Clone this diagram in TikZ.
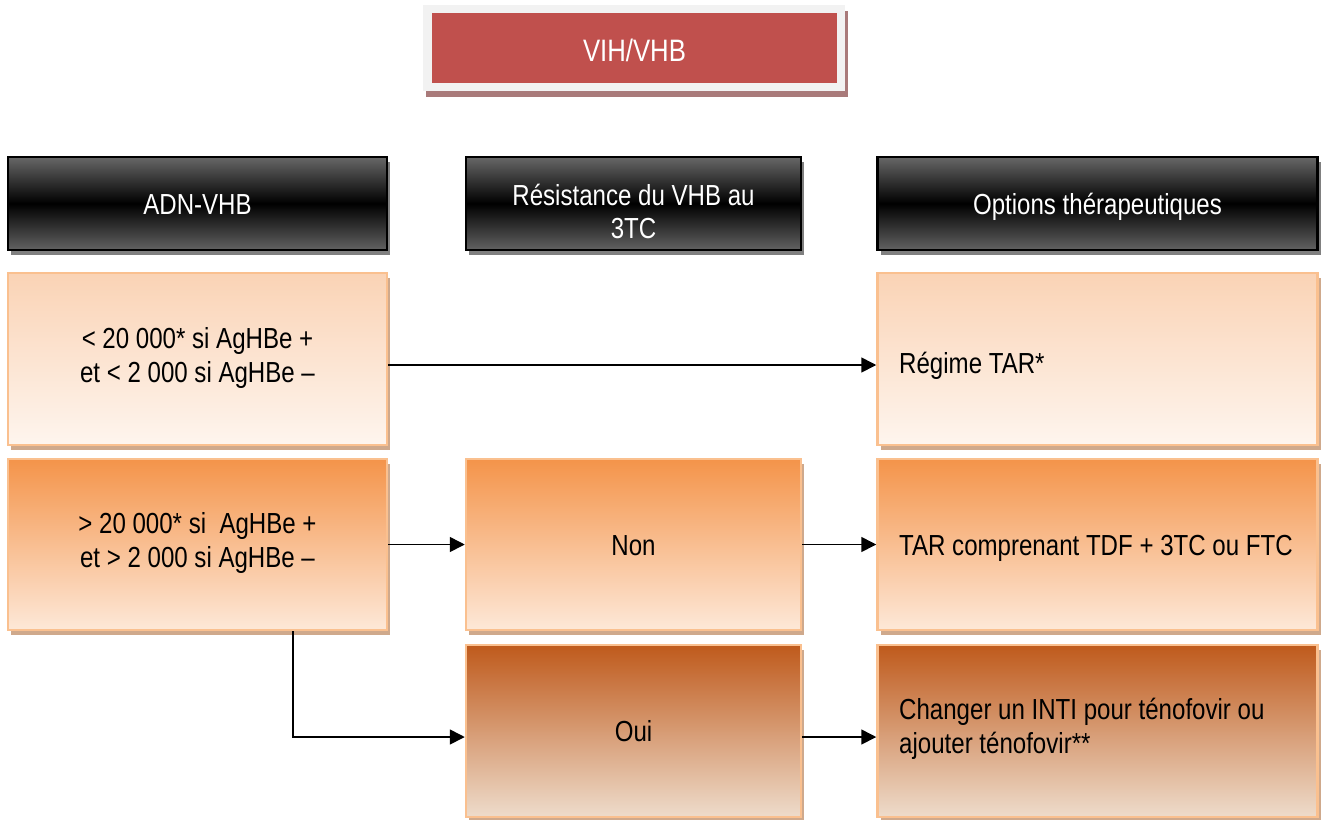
\documentclass[tikz,border=0pt]{standalone}
\usepackage{fontspec}
\setmainfont[FakeStretch=0.83]{Liberation Sans}
\usetikzlibrary{arrows.meta,shadows}

\definecolor{hivred}{HTML}{C0504D}
\definecolor{framegray}{HTML}{F2F2F2}
\definecolor{redshadow}{HTML}{A97A7A}
\definecolor{peachborder}{HTML}{FAC08F}
\definecolor{boxshadow}{HTML}{CFA98C}
\definecolor{headshadow}{HTML}{808080}
\definecolor{headgray}{HTML}{676767}
\definecolor{lowtop}{HTML}{FAD3B5}
\definecolor{lowbot}{HTML}{FEF5EE}
\definecolor{midtop}{HTML}{F4944A}
\definecolor{midbot}{HTML}{FDE8D8}
\definecolor{hightop}{HTML}{BF5A1C}
\definecolor{highbot}{HTML}{EEDCCB}

\begin{document}
\begin{tikzpicture}[x=1pt,y=-1pt,
  % multi-line labels sit on the baseline of their last line
  label/.style={font=\fontsize{29}{33.4}\selectfont, inner sep=0pt, align=center, anchor=base},
  headbox/.style={draw=black, line width=2.5pt, top color=headgray, bottom color=headgray!95!black,
    middle color=black, minimum height=93pt,
    drop shadow={shadow xshift=3pt, shadow yshift=-5pt, fill=headshadow, opacity=1}},
  panel/.style={draw=peachborder, line width=2.5pt, minimum height=172pt,
    drop shadow={shadow xshift=3pt, shadow yshift=-5pt, fill=boxshadow, opacity=1}},
  lowlevel/.style={panel, top color=lowtop, bottom color=lowbot},
  midlevel/.style={panel, top color=midtop, bottom color=midbot},
  highlevel/.style={panel, top color=hightop, bottom color=highbot},
  flow/.style={line width=1.6pt, -{Triangle[length=15pt,width=15pt]}}
]
\useasboundingbox (0,0) rectangle (1321,819);

% title block
\node[fill=framegray, minimum width=422pt, minimum height=86pt, inner sep=0pt,
  drop shadow={shadow xshift=3pt, shadow yshift=-6pt, fill=redshadow, opacity=1}] (frame) at (634,48) {};
\node[fill=hivred, minimum width=405pt, minimum height=70pt, inner sep=0pt] (title) at (634.5,48) {};
\node[label, text=white, font=\fontsize{31}{34}\selectfont] (titletext) at (634.5,61) {VIH/VHB};

% column headers
\node[headbox, minimum width=379pt] (h1) at (197.5,203.5) {};
\node[headbox, minimum width=335pt] (h2) at (633.5,203.5) {};
\node[headbox, minimum width=440pt] (h3) at (1097.5,203.5) {};
\node[label, text=white] (h1t) at (197.5,214) {ADN-VHB};
\node[label, text=white] (h2t) at (633.5,238.5) {Résistance du VHB au\\3TC};
\node[label, text=white] (h3t) at (1097.5,214) {Options thérapeutiques};

% first row
\node[lowlevel, minimum width=379pt] (r1l) at (197.5,359) {};
\node[lowlevel, minimum width=440pt] (r1r) at (1097.5,359) {};
\node[label] (r1lt) at (197.5,382) {< 20 000* si AgHBe +\\et < 2 000 si AgHBe –};
\node[label, anchor=base west] (r1rt) at (899,373) {Régime TAR*};

% second row
\node[midlevel, minimum width=379pt, minimum height=171pt] (r2l) at (197.5,544.5) {};
\node[midlevel, minimum width=335pt, minimum height=171pt] (r2m) at (633.5,544.5) {};
\node[midlevel, minimum width=440pt, minimum height=171pt] (r2r) at (1097.5,544.5) {};
\node[label] (r2lt) at (197.5,567) {> 20 000* si~~AgHBe +\\et > 2 000 si AgHBe –};
\node[label] (r2mt) at (633.5,555) {Non};
\node[label, anchor=base west] (r2rt) at (899,555) {TAR comprenant TDF + 3TC ou FTC};

% third row
\node[highlevel, minimum width=335pt] (r3m) at (633.5,731) {};
\node[highlevel, minimum width=440pt] (r3r) at (1097.5,731) {};
\node[label] (r3mt) at (633.5,741.5) {Oui};
\node[label, anchor=base west, align=left] (r3rt) at (899,753) {Changer un INTI pour ténofovir ou\\ajouter ténofovir**};

% connectors
\draw[flow] ([yshift=-6pt]r1l.east) -- ([yshift=-6pt]r1r.west);
\draw[flow] (r2l.east) -- (r2m.west);
\draw[flow] (r2m.east) -- (r2r.west);
\draw[flow] ([yshift=-6pt]r3m.east) -- ([yshift=-6pt]r3r.west);
\draw[flow] ([xshift=95.5pt]r2l.south) |- ([yshift=-6pt]r3m.west);
\end{tikzpicture}
\end{document}
